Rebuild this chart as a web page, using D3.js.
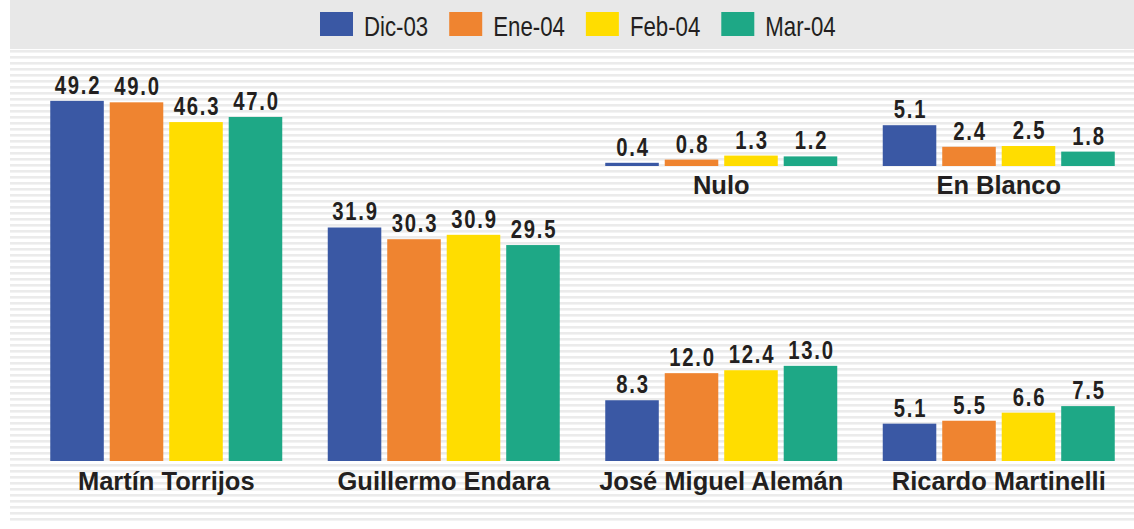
<!DOCTYPE html>
<html>
<head>
<meta charset="utf-8">
<script src="https://cdn.jsdelivr.net/npm/d3@7.9.0/dist/d3.min.js"></script>
<style>
  html, body { margin: 0; padding: 0; background: #fff; }
  svg { display: block; }
  .val { font-family: "Liberation Sans", Arial, sans-serif; font-weight: bold; font-size: 26px; letter-spacing: 2.2px; fill: #231f20; }
  .cat { font-family: "Liberation Sans", Arial, sans-serif; font-weight: bold; font-size: 25.5px; fill: #231f20; }
  .leg { font-family: "Liberation Sans", Arial, sans-serif; font-size: 28.5px; fill: #231f20; }
</style>
</head>
<body>
<svg width="1134" height="529"></svg>
<script>
// data
const series = ["Dic-03", "Ene-04", "Feb-04", "Mar-04"];
const colors = ["#3a58a4", "#ef8430", "#ffdd00", "#1ea886"];
const candidates = ["Martín Torrijos", "Guillermo Endara", "José Miguel Alemán", "Ricardo Martinelli"];
const candidateValues = [
  [49.2, 49.0, 46.3, 47.0],
  [31.9, 30.3, 30.9, 29.5],
  [8.3, 12.0, 12.4, 13.0],
  [5.1, 5.5, 6.6, 7.5]
];
const others = ["Nulo", "En Blanco"];
const otherValues = [
  [0.4, 0.8, 1.3, 1.2],
  [5.1, 2.4, 2.5, 1.8]
];

const svg = d3.select("svg");
const W = 1134;
const narrow = 0.78; // fake condensed face

// background: header band + striped panel
svg.append("rect").attr("x", 10).attr("y", 0).attr("width", W - 10).attr("height", 49).attr("fill", "#e8e8e8");
svg.append("g").selectAll("rect")
  .data(d3.range(50, 522, 6))
  .join("rect")
  .attr("x", 10).attr("y", d => d)
  .attr("width", W - 10).attr("height", 2.6)
  .attr("fill", "#ebebeb");

// scales
const x = d3.scaleBand().domain(candidates).range([27.5, 1137.5]);
const xOther = d3.scaleBand().domain(others).range([27.5 + 2 * x.step(), 1137.5]);
const xs = d3.scaleBand().domain(series).range([-116, 116]).paddingInner(0.1);
const y = d3.scaleLinear().domain([0, 50]).range([461, 95]);
const yTop = d3.scaleLinear().domain([0, 10]).range([166, 86]);

function drawGroups(names, values, xScale, yScale, labelY) {
  const g = svg.append("g").selectAll("g")
    .data(names)
    .join("g")
    .attr("transform", d => `translate(${xScale(d) + xScale.bandwidth() / 2},0)`);

  const bars = g.selectAll("g.bar")
    .data((d, i) => values[i].map((v, j) => ({ v, s: series[j], j })))
    .join("g").attr("class", "bar");

  bars.append("rect")
    .attr("x", d => xs(d.s))
    .attr("width", xs.bandwidth())
    .attr("y", d => yScale(d.v))
    .attr("height", d => yScale(0) - yScale(d.v))
    .attr("fill", d => colors[d.j]);

  bars.append("text")
    .attr("class", "val")
    .attr("transform", d => `translate(${xs(d.s) + xs.bandwidth() / 2 + 1},${yScale(d.v) - 7}) scale(${narrow},1)`)
    .attr("text-anchor", "middle")
    .text(d => d3.format(".1f")(d.v));

  g.append("text")
    .attr("class", "cat")
    .attr("x", 0)
    .attr("y", labelY)
    .attr("text-anchor", "middle")
    .text(d => d);
}

drawGroups(candidates, candidateValues, x, y, 490);
drawGroups(others, otherValues, xOther, yTop, 194);

// legend
const legend = svg.append("g");
let lx = 320;
series.forEach((s, i) => {
  legend.append("rect").attr("x", lx).attr("y", 12).attr("width", 33).attr("height", 24).attr("fill", colors[i]);
  const t = legend.append("text").attr("class", "leg")
    .attr("transform", `translate(${lx + 44},35.5) scale(${narrow},1)`).text(s);
  lx += 44 + t.node().getComputedTextLength() * narrow + 21;
});
</script>
</body>
</html>
